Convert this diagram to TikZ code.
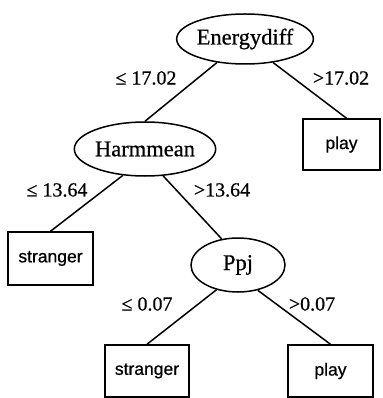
\documentclass[tikz,border=0pt]{standalone}
\usepackage{fontspec}
\setmainfont{Liberation Serif}[RawFeature={embolden=0.6}]
\newfontfamily\arialfont{Liberation Sans}[RawFeature={embolden=0.8}]
\usetikzlibrary{shapes.geometric}
\begin{document}
\begin{tikzpicture}[x=1pt,y=-1pt,
  attr/.style={draw,ellipse,line width=1.5pt,inner sep=0pt,font=\fontsize{22.5}{24}\selectfont},
  leafbox/.style={draw,rectangle,line width=1.5pt,inner sep=0pt,font=\arialfont\fontsize{17.5}{20}\selectfont},
  edgelab/.style={inner sep=0pt,font=\fontsize{20}{22}\selectfont},
  conn/.style={line width=1.5pt}]
\useasboundingbox (0,0) rectangle (382,398);
\node[attr,minimum width=116pt,minimum height=50pt] (E) at (245,39) {Energydiff};
\node[attr,minimum width=115pt,minimum height=54pt] (H) at (145,149) {Harmmean};
\node[attr,minimum width=94pt,minimum height=54pt] (P) at (238,265) {Ppj};
\node[leafbox,minimum width=77pt,minimum height=51pt] (L1) at (341.5,144.5) {play};
\node[leafbox,minimum width=85pt,minimum height=53pt] (L2) at (50.5,258.5) {stranger};
\node[leafbox,minimum width=84pt,minimum height=52pt] (L3) at (147,371) {stranger};
\node[leafbox,minimum width=85pt,minimum height=52pt] (L4) at (330.5,371) {play};
\draw[conn] (E.220) -- (H.north);
\draw[conn] (E.320) -- ([xshift=5pt]L1.north);
\draw[conn] (H.230) -- (L2.north);
\draw[conn] (H.304) -- (P.122);
\draw[conn] (P.229) -- (L3.north);
\draw[conn] (P.308) -- (L4.north);
\node[edgelab] (la) at (146,78) {≤ 17.02};
\node[edgelab] (lb) at (341,78) {>17.02};
\node[edgelab] (lc) at (57,190) {≤ 13.64};
\node[edgelab] (ld) at (222,190) {>13.64};
\node[edgelab] (le) at (147,304) {≤ 0.07};
\node[edgelab] (lf) at (312,304) {>0.07};
\end{tikzpicture}
\end{document}
